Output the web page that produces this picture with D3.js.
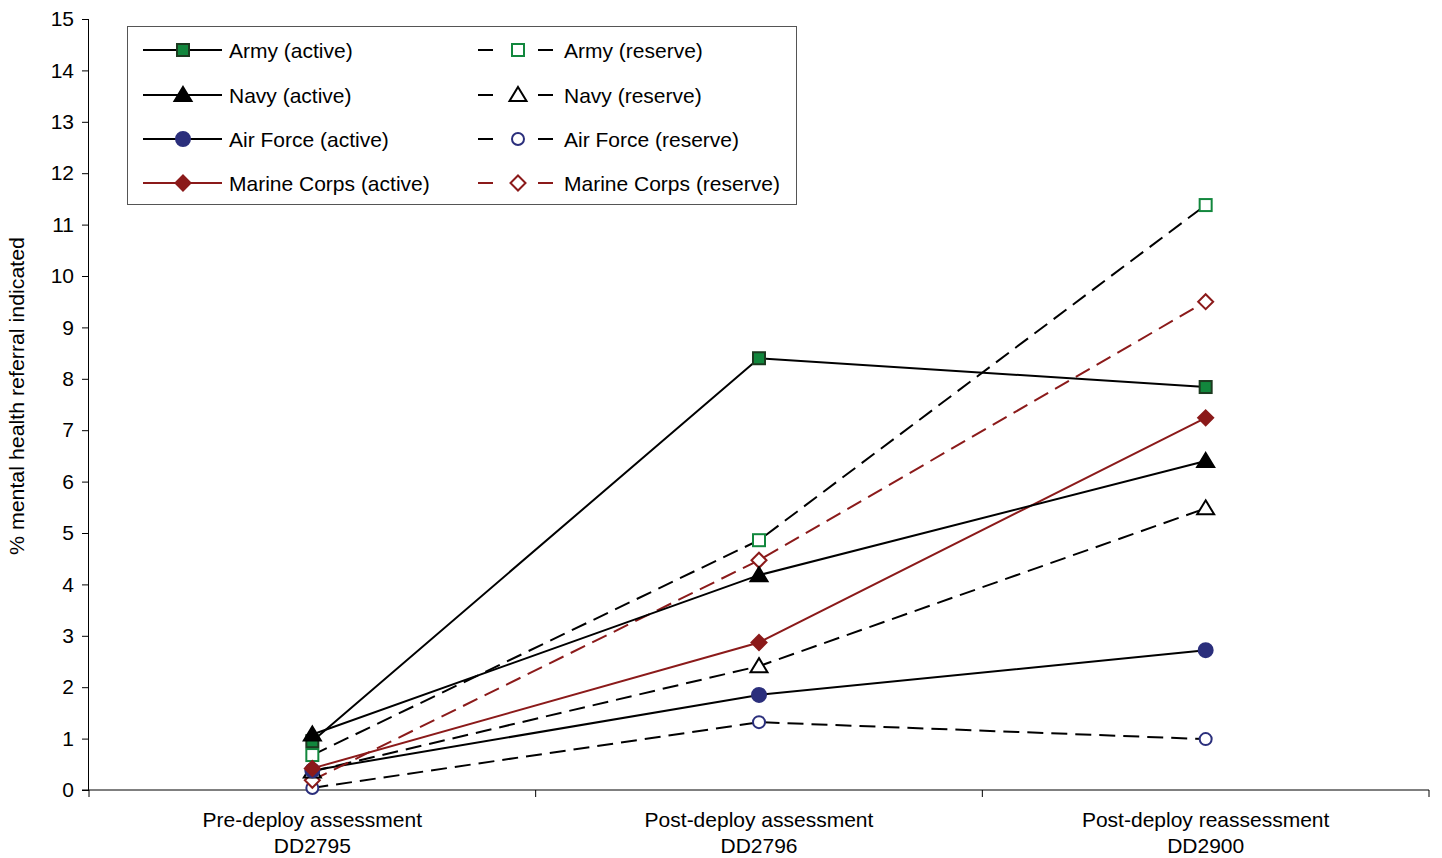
<!DOCTYPE html>
<html><head><meta charset="utf-8">
<script src="https://cdn.jsdelivr.net/npm/d3@7"></script>
<style>body{margin:0;background:#fff}svg{display:block}text{font-family:"Liberation Sans",Arial,sans-serif;fill:#000}</style>
</head><body><svg id="c" width="1442" height="858"></svg>
<script>
const categories = [["Pre-deploy assessment","DD2795"],["Post-deploy assessment","DD2796"],["Post-deploy reassessment","DD2900"]];
const yTicks = [0,1,2,3,4,5,6,7,8,9,10,11,12,13,14,15];
const seriesNames = ["Army (active)","Navy (active)","Air Force (active)","Marine Corps (active)","Army (reserve)","Navy (reserve)","Air Force (reserve)","Marine Corps (reserve)"];
const armyActive = [0.95, 8.40, 7.84];
const navyActive = [1.08, 4.18, 6.40];
const airForceActive = [0.38, 1.85, 2.72];
const marineActive = [0.42, 2.87, 7.24];
const armyReserve = [0.68, 4.86, 11.38];
const navyReserve = [0.36, 2.41, 5.48];
const airForceReserve = [0.04, 1.32, 0.99];
const marineReserve = [0.19, 4.47, 9.50];

const RED = "#8b1a1a", GREEN = "#12873d", NAVY = "#2b2f7c";
const styles = [
 {d:armyActive, line:"#000", dash:null, shape:"square", fill:GREEN, stroke:"#1c3a20"},
 {d:navyActive, line:"#000", dash:null, shape:"triangle", fill:"#000", stroke:"#000"},
 {d:airForceActive, line:"#000", dash:null, shape:"circle", fill:NAVY, stroke:NAVY},
 {d:marineActive, line:RED, dash:null, shape:"diamond", fill:RED, stroke:RED},
 {d:armyReserve, line:"#000", dash:"16,8", shape:"square", fill:"#fff", stroke:GREEN},
 {d:navyReserve, line:"#000", dash:"16,8", shape:"triangle", fill:"#fff", stroke:"#000"},
 {d:airForceReserve, line:"#000", dash:"16,8", shape:"circle", fill:"#fff", stroke:NAVY},
 {d:marineReserve, line:RED, dash:"16,8", shape:"diamond", fill:"#fff", stroke:RED}
];
const lineOrder = [6,2,5,7,3,4,0,1];
const markerOrder = [6,7,5,4,2,3,0,1];

const svg = d3.select("#c");
const L=89, R=1429, T=19, B=790;
const FS = "21px";
const x = d3.scaleBand().domain(d3.range(categories.length)).range([L,R]);
const y = d3.scaleLinear().domain([0,15]).range([B,T]);
const cx = i => x(i)+x.bandwidth()/2;

// y axis
const ya = svg.append("g").attr("transform",`translate(${L},0)`)
 .call(d3.axisLeft(y).tickValues(yTicks).tickSize(7).tickPadding(8).tickFormat(d3.format("d")));
ya.select(".domain").attr("stroke","#000").attr("d",`M-0.5,${T}V${B}`);
ya.selectAll("line").attr("stroke","#000");
ya.selectAll("text").style("font-family","'Liberation Sans',Arial,sans-serif").style("font-size",FS);

// x axis
const xa = svg.append("g").attr("transform",`translate(0,${B})`);
xa.append("line").attr("x1",L-7).attr("x2",R).attr("y1",0).attr("y2",0).attr("stroke","#000");
const bounds = d3.range(categories.length+1).map(i=> i<categories.length? x(i): R);
xa.selectAll("line.t").data(bounds).join("line").attr("class","t")
 .attr("x1",d=>d).attr("x2",d=>d).attr("y1",0).attr("y2",7).attr("stroke","#000");
categories.forEach((c,i)=>{
 const t = xa.append("text").attr("text-anchor","middle").attr("font-size",FS);
 t.append("tspan").attr("x",cx(i)).attr("y",37).text(c[0]);
 t.append("tspan").attr("x",cx(i)).attr("y",63).text(c[1]);
});

svg.append("text").attr("transform",`translate(24,${396}) rotate(-90)`)
 .attr("text-anchor","middle").attr("font-size","21px")
 .attr("textLength",318).attr("lengthAdjust","spacingAndGlyphs")
 .style("font-family","'Liberation Sans Narrow','Arial Narrow','Liberation Sans',sans-serif")
 .text("% mental health referral indicated");

function marker(g, shape, px, py, s){
 let el;
 if(shape==="square") el = g.append("rect").attr("x",px-6).attr("y",py-6).attr("width",12).attr("height",12);
 else if(shape==="circle") el = g.append("circle").attr("cx",px).attr("cy",py).attr("r",s.fill==="#fff"?6:7);
 else if(shape==="triangle") el = g.append("path").attr("d",`M${px},${py-8}L${px+8.5},${py+6}L${px-8.5},${py+6}Z`);
 else el = g.append("path").attr("d",`M${px},${py-7.5}L${px+7.5},${py}L${px},${py+7.5}L${px-7.5},${py}Z`);
 el.attr("fill",s.fill).attr("stroke",s.stroke).attr("stroke-width",2);
}

const line = d3.line().x((d,i)=>cx(i)).y(d=>y(d));
const plot = svg.append("g");
lineOrder.forEach(k=>{
 const s = styles[k];
 plot.append("path").attr("d",line(s.d)).attr("fill","none").attr("stroke",s.line)
  .attr("stroke-width",2).attr("stroke-dasharray",s.dash);
});
markerOrder.forEach(k=>{
 const s = styles[k];
 s.d.forEach((v,i)=>marker(plot,s.shape,cx(i),y(v),s));
});

// legend
const lg = svg.append("g");
lg.append("rect").attr("x",127.5).attr("y",26.5).attr("width",669).attr("height",178)
 .attr("fill","#fff").attr("stroke","#555").attr("stroke-width",1);
const rowsY=[50,95,139,183];
styles.forEach((s,k)=>{
 const col = k<4?0:1, row = k%4;
 const ly = rowsY[row];
 const x0 = col? 478:143, x1 = col?553:222, mx = col?518:183, tx = col?564:229;
 if(s.dash){
  lg.append("line").attr("x1",x0).attr("x2",x0+15).attr("y1",ly).attr("y2",ly).attr("stroke",s.line).attr("stroke-width",2);
  lg.append("line").attr("x1",x1-15).attr("x2",x1).attr("y1",ly).attr("y2",ly).attr("stroke",s.line).attr("stroke-width",2);
 } else {
  lg.append("line").attr("x1",x0).attr("x2",x1).attr("y1",ly).attr("y2",ly).attr("stroke",s.line).attr("stroke-width",2);
 }
 marker(lg,s.shape,mx,ly,s);
 lg.append("text").attr("x",tx).attr("y",ly+7.5).attr("font-size",FS).text(seriesNames[k]);
});
</script></body></html>
